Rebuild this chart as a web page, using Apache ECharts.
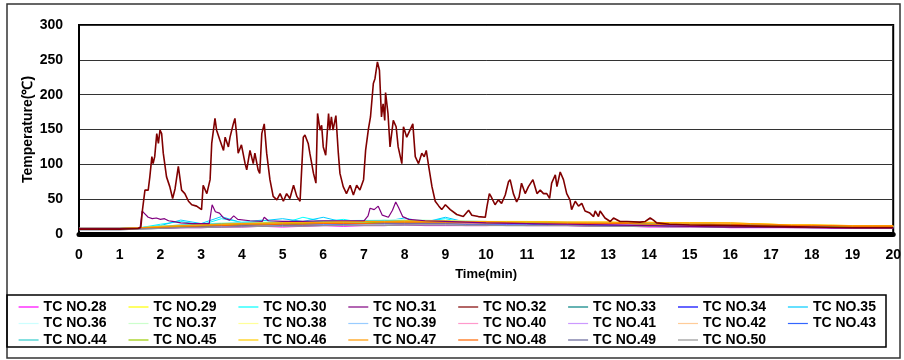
<!DOCTYPE html>
<html>
<head>
<meta charset="utf-8">
<script src="https://cdn.jsdelivr.net/npm/echarts@6/dist/echarts.min.js"></script>
<style>
  html, body { margin: 0; padding: 0; background: #fff; }
  #chart { width: 904px; height: 360px; }
</style>
</head>
<body>
<div id="chart"></div>
<script>
// Thermocouple channel names, in legend order
const channelNames = [
  'TC NO.28','TC NO.29','TC NO.30','TC NO.31','TC NO.32','TC NO.33','TC NO.34','TC NO.35',
  'TC NO.36','TC NO.37','TC NO.38','TC NO.39','TC NO.40','TC NO.41','TC NO.42','TC NO.43',
  'TC NO.44','TC NO.45','TC NO.46','TC NO.47','TC NO.48','TC NO.49','TC NO.50'
];

// Sampling times (min) for the slowly varying channels
const halfMinuteSteps = [0,0.5,1,1.5,2,2.5,3,3.5,4,4.5,5,5.5,6,6.5,7,7.5,8,8.5,9,9.5,10,
  10.5,11,11.5,12,12.5,13,13.5,14,14.5,15,15.5,16,16.5,17,17.5,18,18.5,19,19.5,20];

// Temperatures (°C) at halfMinuteSteps
const tc28 = [7,7,7,8,8,9,9,10,10,11,10,11,12,11,12,12,13,12,12,12,12,13,12,12,12,11,11,11,10,10,10,10,9,9,9,9,9,8,8,8,8];
const tc29 = [8,8,8,9,10,11,12,13,14,15,15,16,16,17,17,18,18,18,18,18,17,18,18,17,17,17,17,16,16,16,16,16,15,15,14,13,13,12,12,12,11];
const tc30 = [8,8,8,9,14,18,13,22,17,20,15,24,18,21,16,20,17,18,22,16,17,16,18,15,16,15,14,14,13,13,12,12,12,11,11,11,10,10,10,10,10];
const tc33 = [8,8,8,9,10,11,12,13,13,14,14,15,15,15,16,16,16,16,16,15,15,15,15,14,14,14,13,13,13,12,12,12,12,11,11,11,10,10,10,10,10];
const tc34 = [7,7,7,8,10,12,13,15,15,14,15,16,17,16,17,18,20,17,16,16,15,15,15,14,14,13,13,12,12,12,11,11,11,10,10,10,10,9,9,9,9];
const tc35 = [8,8,8,9,12,20,15,25,16,19,22,18,24,17,19,18,23,17,24,17,16,17,16,15,15,14,14,13,13,13,12,12,12,11,11,11,11,10,10,10,10];
const tc36 = [8,8,8,8,10,13,14,16,17,17,18,18,19,19,20,20,21,20,19,19,18,18,18,17,17,16,16,15,15,14,14,14,13,13,12,12,12,11,11,11,11];
const tc37 = [8,8,8,9,11,13,14,16,16,17,17,18,18,19,19,20,20,20,19,19,18,18,17,17,17,16,16,15,15,15,14,14,14,13,13,12,12,12,11,11,11];
const tc38 = [8,8,8,9,11,12,13,15,15,16,16,17,17,17,18,18,18,18,18,17,17,17,17,16,16,16,15,15,15,14,14,14,14,13,13,12,12,12,12,11,11];
const tc39 = [7,7,7,8,10,12,13,14,15,15,16,16,17,17,17,18,18,18,17,17,17,16,16,16,15,15,15,14,14,14,13,13,13,12,12,12,11,11,11,11,10];
const tc40 = [7,7,7,8,9,10,11,12,13,13,14,14,15,15,15,16,16,16,16,15,15,15,15,15,14,14,14,13,13,13,12,12,12,12,11,11,11,10,10,10,10];
const tc41 = [7,7,7,8,9,11,12,13,14,14,15,15,16,16,16,17,17,17,16,16,16,15,15,15,14,14,14,13,13,13,12,12,12,11,11,11,11,10,10,10,10];
const tc42 = [8,8,8,9,10,12,13,14,15,15,16,16,17,17,17,18,18,18,18,18,17,17,17,17,17,16,16,16,15,15,15,15,14,14,13,13,12,12,12,11,11];
const tc43 = [7,7,7,8,9,10,11,12,12,13,13,14,14,14,15,15,15,15,15,14,14,14,14,13,13,13,12,12,12,11,11,11,11,10,10,10,10,10,9,9,9];
const tc44 = [8,8,8,9,11,13,14,15,16,16,17,17,18,18,19,19,19,19,18,18,18,17,17,17,16,16,16,15,15,14,14,14,13,13,13,12,12,12,11,11,11];
const tc45 = [8,8,8,9,10,11,12,13,14,14,15,15,16,16,16,17,17,17,17,17,16,16,16,16,16,15,15,15,14,14,14,14,13,13,12,12,12,11,11,11,11];
const tc46 = [8,8,8,9,11,12,13,14,15,16,16,17,17,18,18,18,19,19,19,18,18,18,18,18,17,17,17,17,17,16,16,16,16,15,14,13,13,13,12,12,12];
const tc47 = [8,8,8,9,10,12,13,14,15,15,16,16,17,17,18,18,18,18,18,18,18,17,17,17,17,17,17,16,16,16,16,16,16,15,14,13,13,12,12,12,12];
const tc48 = [7,7,7,8,9,10,11,12,13,13,14,14,15,15,15,16,16,16,16,16,16,16,15,15,15,15,15,15,14,14,14,14,14,13,13,12,12,12,11,11,11];
const tc49 = [6,6,6,7,8,9,10,10,11,11,12,12,12,13,13,13,13,13,13,13,13,12,12,12,12,12,11,11,11,11,11,10,10,10,10,10,9,9,9,9,9];
const tc50 = [6,6,6,7,8,9,9,10,10,11,11,11,12,12,12,12,13,13,13,12,12,12,12,12,12,11,11,11,11,10,10,10,10,10,10,9,9,9,9,9,9];

// TC NO.31: finer readings around its spikes
const tc31Minutes = [0,1,1.5,1.55,1.6,1.7,1.8,1.9,2,2.1,2.2,2.3,2.5,2.8,3.2,3.27,3.35,3.45,3.55,3.7,3.8,3.9,4.2,4.5,4.55,4.65,
  5,5.5,6,6.5,7,7.1,7.15,7.25,7.35,7.45,7.6,7.7,7.78,7.85,7.95,8.1,8.5,9,10,11,12,13,14,15,16,17,18,19,20];
const tc31Temp = [8,8,8,33,30,24,22,23,21,22,19,18,16,15,15,42,32,30,23,20,26,21,19,18,24,19,
  18,18,19,19,19,26,37,35,40,27,24,34,46,38,25,21,19,18,16,15,14,13,12,11,10,10,9,9,9];

// TC NO.32: the hottest channel, read at fine resolution
const tc32Minutes = [0,0.5,1,1.45,1.52,1.56,1.62,1.7,1.74,1.79,1.82,1.86,1.91,1.95,1.99,2.03,2.07,2.15,2.23,2.3,2.36,2.44,2.52,2.6,2.69,2.77,2.89,
  3.01,3.05,3.14,3.22,3.26,3.34,3.38,3.46,3.55,3.59,3.67,3.71,3.79,3.83,3.87,3.91,3.99,4.08,4.12,4.2,4.28,4.32,4.4,4.44,4.49,4.55,4.61,4.69,4.77,4.86,4.94,
  5.02,5.1,5.18,5.27,5.35,5.43,5.51,5.55,5.63,5.67,5.76,5.82,5.86,5.92,5.96,6,6.06,6.13,6.16,6.2,6.24,6.31,6.37,6.41,6.49,6.57,6.66,6.74,6.82,6.9,6.99,
  7.04,7.11,7.16,7.23,7.27,7.33,7.38,7.43,7.47,7.51,7.53,7.59,7.64,7.72,7.79,7.84,7.93,7.97,8.05,8.13,8.2,8.26,8.34,8.42,8.48,8.53,8.59,8.67,8.75,8.84,8.91,
  9,9.12,9.28,9.44,9.57,9.65,9.81,9.98,10.02,10.08,10.12,10.22,10.3,10.38,10.47,10.55,10.59,10.67,10.75,10.81,10.87,10.96,
  11.04,11.15,11.25,11.33,11.41,11.49,11.56,11.61,11.7,11.74,11.82,11.9,11.98,12.06,12.1,12.19,12.27,12.35,12.43,12.55,12.64,12.68,12.76,12.8,12.92,
  13.05,13.13,13.29,13.46,13.78,13.91,14.03,14.11,14.19,14.5,15,16,17,18,19,20];
const tc32Temp = [7,7,7,8,10,35,63,63,82,111,101,111,144,130,149,144,116,82,68,51,65,97,63,58,47,42,40,
  35,70,58,78,130,166,149,135,120,139,125,139,158,166,144,116,128,101,92,120,101,116,92,87,144,158,116,78,54,49,58,
  47,58,51,70,54,47,139,142,130,116,87,73,173,149,156,125,113,173,149,168,149,170,116,87,68,58,70,56,70,63,78,
  120,151,168,216,223,247,235,168,187,163,203,173,125,163,154,125,101,154,139,149,158,111,101,116,111,120,97,68,47,40,35,
  42,35,28,25,34,27,25,24,39,58,54,42,49,44,56,75,78,58,46,53,73,58,
  68,78,58,63,58,58,51,73,85,68,89,78,58,49,35,47,40,44,33,30,25,33,25,33,23,
  18,23,18,18,17,18,23,20,16,14,13,12,11,10,9,9];

// Line colours, in channelNames order
const channelColors = [
  '#FF00FF','#FFFF00','#00FFFF','#800080','#800000','#008080','#0000FF','#00CCFF',
  '#CCFFFF','#CCFFCC','#FFFF99','#99CCFF','#FF99CC','#CC99FF','#FFCC99','#3366FF',
  '#33CCCC','#99CC00','#FFCC00','#FF9900','#FF6600','#666699','#969696'
];

const halfMinuteChannels = {
  'TC NO.28': tc28, 'TC NO.29': tc29, 'TC NO.30': tc30, 'TC NO.33': tc33, 'TC NO.34': tc34,
  'TC NO.35': tc35, 'TC NO.36': tc36, 'TC NO.37': tc37, 'TC NO.38': tc38, 'TC NO.39': tc39,
  'TC NO.40': tc40, 'TC NO.41': tc41, 'TC NO.42': tc42, 'TC NO.43': tc43, 'TC NO.44': tc44,
  'TC NO.45': tc45, 'TC NO.46': tc46, 'TC NO.47': tc47, 'TC NO.48': tc48, 'TC NO.49': tc49,
  'TC NO.50': tc50
};

function pairs(xs, ys) { return xs.map((x, i) => [x, ys[i]]); }

const series = channelNames.map((name, i) => {
  let data, width = 1, z = 2;
  if (name === 'TC NO.32') { data = pairs(tc32Minutes, tc32Temp); width = 1.6; z = 4; }
  else if (name === 'TC NO.31') { data = pairs(tc31Minutes, tc31Temp); width = 1.2; z = 3; }
  else { data = pairs(halfMinuteSteps, halfMinuteChannels[name]); }
  return {
    name, type: 'line', data, z,
    symbol: 'none', showSymbol: false, smooth: false,
    lineStyle: { color: channelColors[i], width },
    itemStyle: { color: channelColors[i] },
    emphasis: { disabled: true }
  };
});

// Legend: 8 columns, 3 rows, plain line keys
const legendFont = { fontFamily: 'Liberation Sans, Arial, sans-serif', fontWeight: 'bold', fontSize: 14, color: '#000', lineHeight: 14 };
const legends = [];
for (let c = 0; c < 8; c++) {
  const data = [];
  for (let r = 0; r < 3; r++) {
    const k = r * 8 + c;
    if (k < channelNames.length) data.push(channelNames[k]);
  }
  legends.push({
    data, orient: 'vertical', left: 18 + c * 109.9, top: 300,
    padding: 0, itemGap: 2.5, itemWidth: 20, itemHeight: 14,
    itemStyle: { opacity: 0 },
    lineStyle: { width: 1.2 },
    selectedMode: false, textStyle: legendFont
  });
}

const chart = echarts.init(document.getElementById('chart'), null, { renderer: 'canvas' });
chart.setOption({
  animation: false,
  backgroundColor: '#fff',
  textStyle: { fontFamily: 'Liberation Sans, Arial, sans-serif' },
  grid: { left: 79, right: 9, top: 25, bottom: 126, show: true, borderColor: '#000', borderWidth: 2, backgroundColor: 'transparent' },
  legend: legends,
  xAxis: {
    type: 'value', min: 0, max: 20, interval: 1,
    name: 'Time(min)', nameLocation: 'middle', nameGap: 34, nameMoveOverlap: false,
    nameTextStyle: { fontWeight: 'bold', fontSize: 13, color: '#000' },
    axisLine: { show: true, onZero: false, lineStyle: { color: '#000', width: 5 } },
    axisTick: { show: false },
    axisLabel: { fontWeight: 'bold', fontSize: 14, color: '#000', margin: 14 },
    splitLine: { show: false }
  },
  yAxis: {
    type: 'value', min: 0, max: 300, interval: 50,
    name: 'Temperature(℃)', nameLocation: 'middle', nameGap: 44, nameRotate: 90, nameMoveOverlap: false,
    nameTextStyle: { fontWeight: 'bold', fontSize: 14, color: '#000' },
    axisLine: { show: true, lineStyle: { color: '#000', width: 2 } },
    axisTick: { show: false },
    axisLabel: { fontWeight: 'bold', fontSize: 14, color: '#000', margin: 16 },
    splitLine: { show: true, lineStyle: { color: '#333', width: 1 } }
  },
  graphic: [
    { type: 'rect', shape: { x: 7, y: 4, width: 893, height: 354 }, style: { fill: 'none', stroke: '#333', lineWidth: 1.5 }, silent: true, z: -1 },
    { type: 'rect', shape: { x: 7, y: 295, width: 879, height: 52 }, style: { fill: 'none', stroke: '#000', lineWidth: 1.5 }, silent: true, z: -1 }
  ],
  series
});
</script>
</body>
</html>
